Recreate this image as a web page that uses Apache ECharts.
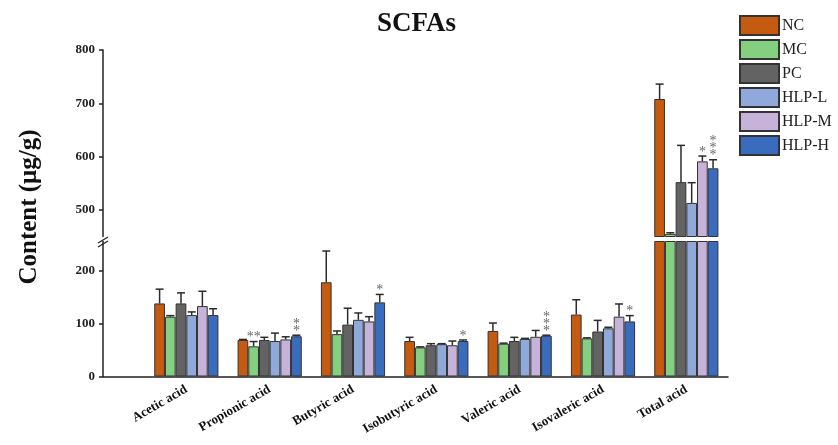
<!DOCTYPE html>
<html>
<head>
<meta charset="utf-8">
<script src="https://cdn.jsdelivr.net/npm/echarts@6/dist/echarts.min.js"></script>
<style>html,body{margin:0;padding:0;background:#fff}#c{width:838px;height:445px}</style>
</head>
<body>
<div id="c"></div>
<script>
const categories = ['Acetic acid','Propionic acid','Butyric acid','Isobutyric acid','Valeric acid','Isovaleric acid','Total acid'];
const groups = ['NC','MC','PC','HLP-L','HLP-M','HLP-H'];
const NC     = [138, 69, 178, 67, 86, 117, 708];
const NC_err = [27, 1, 59, 7, 15, 28, 28];
const MC     = [113, 57, 80, 55, 62, 72, 455];
const MC_err = [2, 9, 6, 1, 1, 1, 2];
const PC     = [138, 69, 98, 59, 67, 85, 552];
const PC_err = [20, 5, 31, 3, 7, 21, 69];
const HLPL     = [116, 67, 107, 61, 71, 91, 513];
const HLPL_err = [6, 15, 13, 1, 1, 2, 38];
const HLPM     = [133, 70, 104, 59, 75, 113, 591];
const HLPM_err = [28, 5, 9, 8, 12, 24, 10];
const HLPH     = [116, 76, 140, 67, 77, 104, 578];
const HLPH_err = [12, 2, 15, 2, 1, 11, 16];
const MC_sig   = ['', '**', '', '', '', '', ''];
const HLPM_sig = ['', '', '', '', '', '', '*'];
const HLPH_sig = ['', '**', '*', '*', '***', '*', '***'];
const lowerTicks = [0, 100, 200];
const upperTicks = [500, 600, 700, 800];
const lowerRange = [0, 255];
const upperRange = [450, 800];

const values = [NC, MC, PC, HLPL, HLPM, HLPH];
const errs = [NC_err, MC_err, PC_err, HLPL_err, HLPM_err, HLPH_err];
const sigs = [[], MC_sig, [], [], HLPM_sig, HLPH_sig];
const colors = ['#C55A11', '#84CF80', '#636363', '#8FA9DA', '#C7B2DA', '#3A6CBD'];
const FONT = "'Liberation Serif', 'Times New Roman', serif";
const CAT_GAP = 0.23;

const chart = echarts.init(document.getElementById('c'), null, {renderer: 'canvas'});

function buildErr(inUpper) {
  const data = [], stars = [];
  for (let g = 0; g < groups.length; g++) {
    for (let i = 0; i < categories.length; i++) {
      const v = values[g][i];
      const isUpper = v > lowerRange[1];
      if (isUpper !== inUpper) continue;
      data.push([i + 1, g, v, errs[g][i]]);
      stars.push({s: sigs[g][i] || '', horiz: g === 1});
    }
  }
  return {data, stars};
}

function errSeries(gridIdx, inUpper) {
  const built = buildErr(inUpper);
  return {
    type: 'custom',
    xAxisIndex: gridIdx, yAxisIndex: gridIdx,
    z: 5,
    silent: true,
    encode: {x: 0, y: 2},
    data: built.data,
    renderItem: function (params, api) {
      const x = api.value(0), g = api.value(1), v = api.value(2), e = api.value(3);
      const base = api.coord([x, v]);
      const top = api.coord([x, v + e]);
      const band = api.size([1, 0])[0];
      const groupW = band * (1 - CAT_GAP);
      const bw = groupW / 6;
      const cx = base[0] - groupW / 2 + bw * (g + 0.5);
      const st = {stroke: '#2b2b2b', lineWidth: 1.5};
      const children = [
        {type: 'line', shape: {x1: cx, y1: base[1], x2: cx, y2: top[1]}, style: st},
        {type: 'line', shape: {x1: cx - 4, y1: top[1], x2: cx + 4, y2: top[1]}, style: st}
      ];
      const sInfo = built.stars[params.dataIndex];
      if (sInfo && sInfo.s) {
        const txt = sInfo.horiz ? sInfo.s : sInfo.s.split('').join('\n');
        children.push({
          type: 'text',
          style: {
            text: txt, x: cx, y: top[1] - 0.5,
            align: 'center', verticalAlign: 'bottom',
            font: '14px ' + FONT, lineHeight: 7, fill: '#666'
          }
        });
      }
      return {type: 'group', children: children};
    }
  };
}

const series = [];
for (let gi = 0; gi < 2; gi++) {
  for (let g = 0; g < groups.length; g++) {
    series.push({
      name: groups[g],
      type: 'bar',
      xAxisIndex: gi, yAxisIndex: gi,
      clip: true,
      barGap: '0%',
      barCategoryGap: (CAT_GAP * 100) + '%',
      itemStyle: {color: colors[g], borderColor: '#333', borderWidth: 1},
      data: values[g].map((v, i) => [i + 1, v])
    });
  }
}
series.push(errSeries(0, false));
series.push(errSeries(1, true));

const axisLineStyle = {color: '#222', width: 1.5};
const option = {
  animation: false,
  backgroundColor: '#fff',
  title: {
    text: 'SCFAs', left: 372, top: 6,
    textStyle: {fontFamily: FONT, fontWeight: 'bold', fontSize: 27, color: '#111'}
  },
  legend: {
    data: groups, orient: 'vertical', left: 734, top: 10,
    itemWidth: 39, itemHeight: 19, itemGap: 3,
    icon: 'rect',
    textStyle: {fontFamily: FONT, fontSize: 16, color: '#222', padding: [0, 0, 0, -2]}
  },
  grid: [
    {left: 103, right: 110, top: 241.5, bottom: 68.5},
    {left: 103, right: 110, top: 50, bottom: 208.5}
  ],
  xAxis: [
    {
      type: 'value', gridIndex: 0, min: 0, max: 7.5,
      splitLine: {show: false},
      axisLine: {show: true, lineStyle: axisLineStyle},
      axisTick: {show: false},
      axisLabel: {
        customValues: categories.map((c, i) => i + 1),
        formatter: v => categories[Math.round(v) - 1] || '',
        rotate: 30, margin: 12,
        fontFamily: FONT, fontWeight: 'bold', fontSize: 13, color: '#111'
      }
    },
    {
      type: 'value', gridIndex: 1, min: 0, max: 7.5, show: false,
      splitLine: {show: false}
    }
  ],
  yAxis: [
    {
      type: 'value', gridIndex: 0, min: lowerRange[0], max: lowerRange[1],
      splitLine: {show: false},
      axisLine: {show: true, lineStyle: axisLineStyle},
      axisTick: {show: true, length: 4, customValues: lowerTicks, lineStyle: axisLineStyle},
      axisLabel: {customValues: lowerTicks, margin: 8, fontFamily: FONT, fontWeight: 'bold', fontSize: 13, color: '#222'}
    },
    {
      type: 'value', gridIndex: 1, min: upperRange[0], max: upperRange[1],
      splitLine: {show: false},
      axisLine: {show: true, lineStyle: axisLineStyle},
      axisTick: {show: true, length: 4, customValues: upperTicks, lineStyle: axisLineStyle},
      axisLabel: {customValues: upperTicks, margin: 8, fontFamily: FONT, fontWeight: 'bold', fontSize: 13, color: '#222'}
    }
  ],
  graphic: [
    {
      type: 'text', x: 30, y: 207, rotation: Math.PI / 2,
      style: {text: 'Content (μg/g)', font: 'bold 25px ' + FONT, fill: '#111', align: 'center', verticalAlign: 'middle'}
    },
    {type: 'line', shape: {x1: 98, y1: 243, x2: 108, y2: 237}, style: {stroke: '#222', lineWidth: 1.2}},
    {type: 'line', shape: {x1: 98, y1: 247, x2: 108, y2: 241}, style: {stroke: '#222', lineWidth: 1.2}}
  ],
  series: series
};
chart.setOption(option);
</script>
</body>
</html>
